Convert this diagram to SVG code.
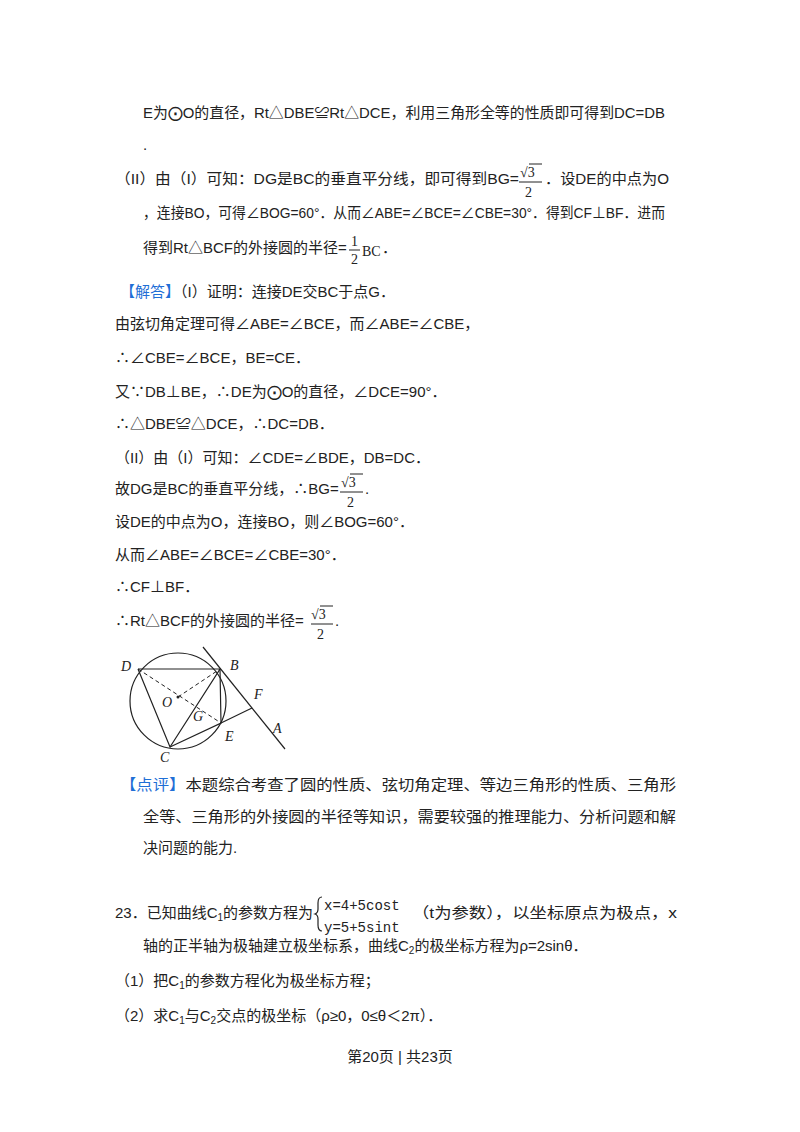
<svg xmlns="http://www.w3.org/2000/svg" width="800" height="1132" viewBox="0 0 800 1132">
<style>
text{font-family:"Liberation Sans","Noto Sans CJK SC",sans-serif;font-size:15px;fill:#222}
.b{fill:#1f6fd6}
.s{font-family:"Liberation Serif","Noto Sans CJK SC",serif;font-size:14px}
.m{font-family:"Liberation Mono",monospace;font-size:14px}
.l{font-family:"Liberation Serif",serif;font-style:italic;font-size:14px}
.f{stroke:#222;stroke-width:1.2;fill:none}
.d{stroke:#222;stroke-width:1;fill:none;stroke-dasharray:4,3}
</style>
<rect width="800" height="1132" fill="#fff"/>
<text x="143" y="118" textLength="522" lengthAdjust="spacingAndGlyphs">E为⨀O的直径，Rt△DBE≌Rt△DCE，利用三角形全等的性质即可得到DC=DB</text>
<text x="143" y="150">.</text>
<text x="115" y="184" textLength="404" lengthAdjust="spacingAndGlyphs">（II）由（I）可知：DG是BC的垂直平分线，即可得到BG=</text>
<text x="520" y="177" class="s">√3</text><line x1="529" y1="164" x2="542" y2="164" stroke="#222"/><line x1="519" y1="182" x2="542" y2="182" stroke="#222"/><text x="525" y="197" class="s">2</text>
<text x="545" y="184" textLength="124" lengthAdjust="spacingAndGlyphs">．设DE的中点为O</text>
<text x="143" y="218" textLength="522" lengthAdjust="spacingAndGlyphs">，连接BO，可得∠BOG=60°．从而∠ABE=∠BCE=∠CBE=30°．得到CF⊥BF．进而</text>
<text x="143" y="253">得到Rt△BCF的外接圆的半径=</text>
<text x="351" y="246" class="s">1</text><line x1="349" y1="250" x2="360" y2="250" stroke="#222"/><text x="351" y="264" class="s">2</text>
<text x="362" y="256" class="s">BC</text><text x="382" y="253">．</text>
<text x="120" y="297"><tspan class="b">【解答】</tspan>（I）证明：连接DE交BC于点G．</text>
<text x="115" y="329">由弦切角定理可得∠ABE=∠BCE，而∠ABE=∠CBE，</text>
<text x="115" y="363">∴∠CBE=∠BCE，BE=CE．</text>
<text x="115" y="397">又∵DB⊥BE，∴DE为⨀O的直径，∠DCE=90°．</text>
<text x="115" y="429">∴△DBE≌△DCE，∴DC=DB．</text>
<text x="115" y="463">（II）由（I）可知：∠CDE=∠BDE，DB=DC．</text>
<text x="115" y="494">故DG是BC的垂直平分线，∴BG=</text>
<text x="341" y="487" class="s">√3</text><line x1="350" y1="474" x2="363" y2="474" stroke="#222"/><line x1="340" y1="492" x2="363" y2="492" stroke="#222"/><text x="347" y="507" class="s">2</text>
<text x="365" y="494">.</text>
<text x="115" y="527">设DE的中点为O，连接BO，则∠BOG=60°．</text>
<text x="115" y="560">从而∠ABE=∠BCE=∠CBE=30°．</text>
<text x="115" y="592">∴CF⊥BF．</text>
<text x="115" y="626">∴Rt△BCF的外接圆的半径=</text>
<text x="311" y="619" class="s">√3</text><line x1="320" y1="606" x2="333" y2="606" stroke="#222"/><line x1="311" y1="624" x2="333" y2="624" stroke="#222"/><text x="317" y="639" class="s">2</text>
<text x="335" y="626">.</text>
<g id="figure">
<circle cx="178" cy="701" r="48" class="f"/>
<line x1="203" y1="647" x2="285" y2="749" class="f"/>
<polyline points="138,669 220,669 170,747 138,669" class="f"/>
<polyline points="220,669 221,723 170,747" class="f"/>
<line x1="221" y1="723" x2="252" y2="708" class="f"/>
<line x1="138" y1="669" x2="221" y2="723" class="d"/>
<line x1="178" y1="697" x2="220" y2="669" class="d"/>
<circle cx="178" cy="697" r="1.5" fill="#222"/>
<text x="121" y="671" class="l">D</text><text x="230" y="670" class="l">B</text>
<text x="162" y="707" class="l">O</text><text x="193" y="721" class="l">G</text>
<text x="254" y="699" class="l">F</text><text x="225" y="741" class="l">E</text>
<text x="273" y="733" class="l">A</text><text x="160" y="762" class="l">C</text>
</g>
<text x="120" y="790" textLength="556" lengthAdjust="spacingAndGlyphs"><tspan class="b">【点评】</tspan>本题综合考查了圆的性质、弦切角定理、等边三角形的性质、三角形</text>
<text x="143" y="822" textLength="533" lengthAdjust="spacingAndGlyphs">全等、三角形的外接圆的半径等知识，需要较强的推理能力、分析问题和解</text>
<text x="143" y="853">决问题的能力.</text>
<text x="115" y="918">23．已知曲线C<tspan font-size="10" dy="3">1</tspan><tspan dy="-3">的参数方程为</tspan></text>
<path d="M 322 897 q -4 0 -4 6 v 6 q 0 4 -3 5 q 3 1 3 5 v 6 q 0 6 4 6" class="f" stroke-width="1"/>
<text x="324" y="910" class="m">x=4+5cost</text>
<text x="324" y="932" class="m">y=5+5sint</text>
<text x="412" y="918" textLength="265" lengthAdjust="spacingAndGlyphs">（t为参数），以坐标原点为极点，x</text>
<text x="143" y="951">轴的正半轴为极轴建立极坐标系，曲线C<tspan font-size="10" dy="3">2</tspan><tspan dy="-3">的极坐标方程为ρ=2sinθ．</tspan></text>
<text x="115" y="986">（1）把C<tspan font-size="10" dy="3">1</tspan><tspan dy="-3">的参数方程化为极坐标方程；</tspan></text>
<text x="115" y="1021">（2）求C<tspan font-size="10" dy="3">1</tspan><tspan dy="-3">与C</tspan><tspan font-size="10" dy="3">2</tspan><tspan dy="-3">交点的极坐标（ρ≥0，0≤θ＜2π）．</tspan></text>
<text x="400" y="1062" text-anchor="middle" font-size="13">第20页 | 共23页</text>
</svg>
